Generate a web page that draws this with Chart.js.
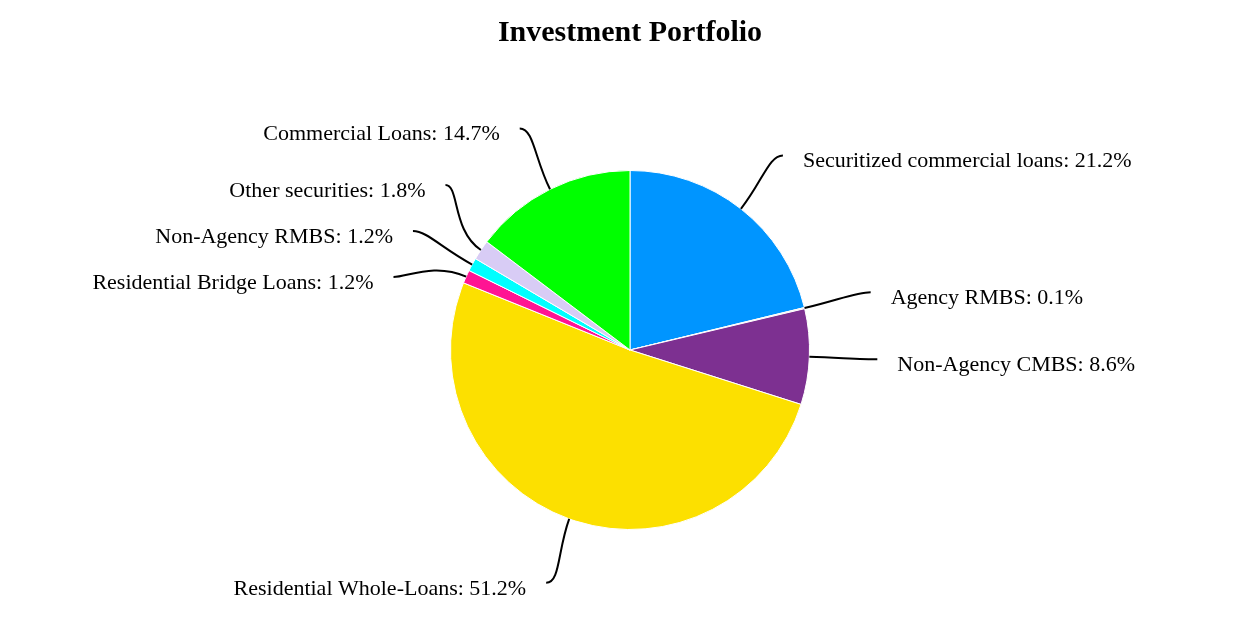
<!DOCTYPE html>
<html>
<head>
<meta charset="utf-8">
<script src="https://cdn.jsdelivr.net/npm/chart.js@4/dist/chart.umd.min.js"></script>
<style>
  html, body { margin: 0; padding: 0; background: #fff; }
  #wrap { width: 1260px; height: 638px; }
</style>
</head>
<body>
<div id="wrap"><canvas id="chart"></canvas></div>
<script>
const title = 'Investment Portfolio';
const categories = [
  'Securitized commercial loans',
  'Agency RMBS',
  'Non-Agency CMBS',
  'Residential Whole-Loans',
  'Residential Bridge Loans',
  'Non-Agency RMBS',
  'Other securities',
  'Commercial Loans'
];
const shares = [21.2, 0.1, 8.6, 51.2, 1.2, 1.2, 1.8, 14.7];
const colors = ['#0095ff', '#c8c8c8', '#7d3091', '#fce000', '#ff1493', '#00ffff', '#d8ccf5', '#00ff00'];

const FONT = '"Liberation Serif", "Times New Roman", serif';

// draws title, leader lines and labels
const labelPlugin = {
  id: 'pieLabels',
  afterDraw(chart) {
    const ctx = chart.ctx;
    const arcs = chart.getDatasetMeta(0).data;
    const cx = arcs[0].x, cy = arcs[0].y, r = arcs[0].outerRadius;
    const rr = r + 68;

    ctx.save();
    ctx.fillStyle = '#000';
    ctx.font = 'bold 30px ' + FONT;
    ctx.textAlign = 'center';
    ctx.textBaseline = 'middle';
    ctx.fillText(title, chart.width / 2, 33);

    const items = arcs.map((a, i) => {
      const mid = (a.startAngle + a.endAngle) / 2;
      return {
        i, mid,
        sx: cx + Math.cos(mid) * r,
        sy: cy + Math.sin(mid) * r,
        right: Math.cos(mid) >= 0,
        y: cy + Math.sin(mid) * rr
      };
    });

    // spread labels vertically on each side
    const gap = 46;
    [true, false].forEach(side => {
      const grp = items.filter(it => it.right === side).sort((a, b) => a.y - b.y);
      for (let k = 0; k < 20; k++) {
        let moved = false;
        for (let j = 1; j < grp.length; j++) {
          const d = grp[j].y - grp[j - 1].y;
          if (d < gap) {
            const push = (gap - d) / 2;
            grp[j].y += push; grp[j - 1].y -= push; moved = true;
          }
        }
        if (!moved) break;
      }
    });

    ctx.font = '22px ' + FONT;
    ctx.textBaseline = 'middle';
    ctx.strokeStyle = '#000';
    ctx.lineWidth = 2;
    items.forEach(it => {
      const dy = it.y - cy;
      const dx = Math.sqrt(Math.max(rr * rr - dy * dy, 0)) * (it.right ? 1 : -1);
      const ex = cx + dx, ey = it.y;
      const dir = it.right ? 1 : -1;
      ctx.beginPath();
      ctx.moveTo(it.sx, it.sy);
      ctx.bezierCurveTo(
        it.sx + Math.cos(it.mid) * 35, it.sy + Math.sin(it.mid) * 35,
        ex - dir * 14, ey,
        ex, ey
      );
      ctx.stroke();
      ctx.textAlign = it.right ? 'left' : 'right';
      ctx.fillText(categories[it.i] + ': ' + shares[it.i].toFixed(1) + '%', ex + dir * 20, ey + 6);
    });
    ctx.restore();
  }
};

new Chart(document.getElementById('chart'), {
  type: 'pie',
  data: {
    labels: categories,
    datasets: [{
      data: shares,
      backgroundColor: colors,
      borderColor: '#ffffff',
      borderWidth: 1
    }]
  },
  options: {
    responsive: true,
    maintainAspectRatio: false,
    animation: false,
    layout: { padding: { top: 170, bottom: 108, left: 450, right: 450 } },
    plugins: {
      legend: { display: false },
      tooltip: { enabled: false }
    }
  },
  plugins: [labelPlugin]
});
</script>
</body>
</html>
